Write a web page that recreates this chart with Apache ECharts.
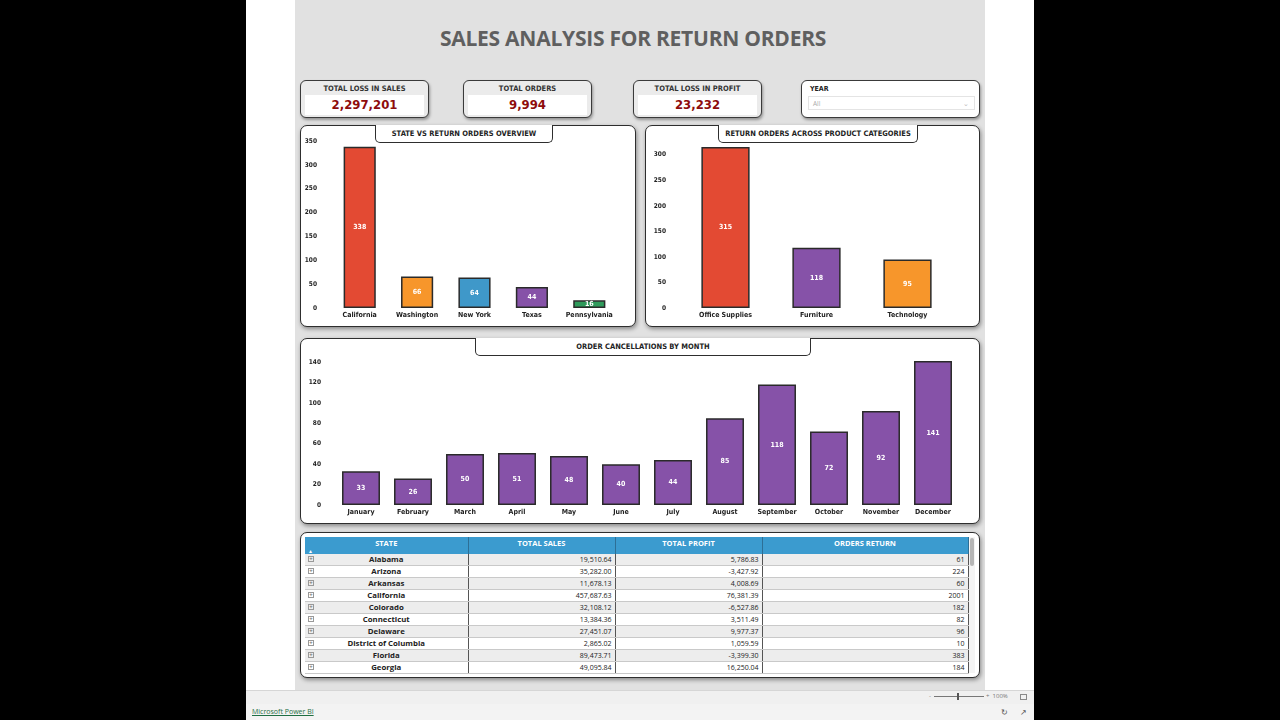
<!DOCTYPE html>
<html>
<head>
<meta charset="utf-8">
<script src="https://cdn.jsdelivr.net/npm/echarts@6/dist/echarts.min.js"></script>
<style>
	html, body { margin: 0; padding: 0; }
	body { width: 1280px; height: 720px; background: #000; position: relative; overflow: hidden; font-family: "Open Sans", sans-serif; }
	.abs { position: absolute; }
	#page { left: 246px; top: 0; width: 788px; height: 720px; background: #fff; }
	#canvas { left: 295px; top: 0; width: 690px; height: 690px; background: #e1e1e1; }
	#zoombar { left: 246px; top: 690px; width: 788px; height: 13px; background: #f0f0f0; border-top: 1px solid #d6d6d6; }
	#footer { left: 246px; top: 704px; width: 788px; height: 16px; background: #f3f3f3; }
	#title { left: 288px; top: 24px; width: 690px; text-align: center; font-weight: 700; font-size: 21px; color: #5f5f5f; letter-spacing: -0.25px; }
	.card { background: #ebebeb; border: 1.5px solid #3a3a3a; border-radius: 6px; box-shadow: 1px 2px 3px rgba(0,0,0,0.35); box-sizing: border-box; }
	.card .t { position: absolute; left: 0; right: 0; top: 3px; text-align: center; font-family: "DejaVu Sans Condensed", sans-serif; font-weight: 700; font-size: 7.5px; color: #333; }
	.card .v { position: absolute; left: 4px; right: 4px; top: 14px; height: 20px; background: #fff; text-align: center; font-family: "DejaVu Sans Condensed", sans-serif; font-weight: 700; font-size: 13px; line-height: 20px; color: #8e0c0c; }
	.panel { background: #fff; border: 1.5px solid #2e2e2e; border-radius: 7px; box-shadow: 1px 2px 4px rgba(0,0,0,0.4); box-sizing: border-box; }
	.tab { background: #fff; border: 1px solid #2e2e2e; border-top: none; border-radius: 0 0 5px 5px; box-sizing: border-box; text-align: center; font-family: "DejaVu Sans Condensed", sans-serif; font-weight: 700; font-size: 7.5px; color: #222; line-height: 17px; z-index: 5; }
	.chart { z-index: 3; }
	#tbl { left: 305px; top: 537px; width: 663px; border-collapse: collapse; table-layout: fixed; font-size: 7px; z-index: 4; }
	#tbl th { background: #3b9bcf; color: #fff; font-weight: 700; height: 17px; padding: 0; font-size: 7.5px; border-right: 1px solid #2d6f96; position: relative; vertical-align: top; line-height: 13px; }
	#tbl td { height: 11px; padding: 0 3px; border-bottom: 1px solid #c9c9c9; border-right: 1px solid #555; line-height: 11px; color: #222; white-space: nowrap; overflow: hidden; }
	#tbl tr:nth-child(odd) td { background: #ffffff; }
	#tbl tr:nth-child(even) td { background: #ededed; }
	#tbl td.st { text-align: center; font-weight: 700; font-size: 7.8px; position: relative; }
	#tbl td.num { text-align: right; }
	.plus { position: absolute; left: 3px; top: 2px; width: 6px; height: 6px; border: 1px solid #999; box-sizing: border-box; font-size: 6px; line-height: 4px; text-align: center; color: #777; }
</style>
</head>
<body>
<div id="page" class="abs"></div>
<div id="canvas" class="abs"></div>
<div id="title" class="abs">SALES ANALYSIS FOR RETURN ORDERS</div>

<div id="kpis"></div>

<div class="abs card" style="left:801px;top:80px;width:179px;height:38px;background:#fff;">
	<div class="abs" style="left:8px;top:4px;font-family:'DejaVu Sans Condensed',sans-serif;font-weight:700;font-size:7px;color:#222;">YEAR</div>
	<div class="abs" style="left:6px;top:15px;width:167px;height:14px;border:1px solid #e4e4e4;box-sizing:border-box;font-size:6.5px;color:#aaa;line-height:13px;padding-left:4px;">All<span style="position:absolute;right:5px;top:0;color:#bbb;">&#8964;</span></div>
</div>

<div class="abs panel" style="left:300px;top:125px;width:336px;height:202px;"></div>
<div class="abs tab" style="left:375px;top:125px;width:178px;height:18px;">STATE VS RETURN ORDERS OVERVIEW</div>
<div id="stateChart" class="abs chart" style="left:300px;top:125px;width:336px;height:202px;"></div>

<div class="abs panel" style="left:645px;top:125px;width:335px;height:202px;"></div>
<div class="abs tab" style="left:718px;top:125px;width:200px;height:18px;">RETURN ORDERS ACROSS PRODUCT CATEGORIES</div>
<div id="categoryChart" class="abs chart" style="left:645px;top:125px;width:335px;height:202px;"></div>

<div class="abs panel" style="left:300px;top:338px;width:680px;height:186px;"></div>
<div class="abs tab" style="left:475px;top:338px;width:336px;height:18px;">ORDER CANCELLATIONS BY MONTH</div>
<div id="monthChart" class="abs chart" style="left:300px;top:338px;width:680px;height:186px;"></div>

<div class="abs panel" style="left:300px;top:532px;width:680px;height:146px;"></div>
<table id="tbl" class="abs"></table>
<div class="abs" style="left:969px;top:537px;width:6px;height:136px;background:#f4f4f4;z-index:4;"></div>
<div class="abs" style="left:970px;top:538px;width:4px;height:28px;background:#b5b5b5;border-radius:2px;z-index:5;"></div>

<div id="zoombar" class="abs">
	<div class="abs" style="left:683px;top:1px;font-size:6px;color:#777;">-</div>
	<div class="abs" style="left:688px;top:5px;width:50px;height:1px;background:#777;"></div>
	<div class="abs" style="left:711px;top:2px;width:2px;height:7px;background:#555;"></div>
	<div class="abs" style="left:740px;top:1px;font-size:6px;color:#777;">+ &nbsp;100%</div>
	<div class="abs" style="left:774px;top:3px;width:7px;height:6px;border:1px solid #888;box-sizing:border-box;"></div>
</div>
<div id="footer" class="abs">
	<div class="abs" style="left:6px;top:3px;font-size:7px;color:#1f6e43;text-decoration:underline;">Microsoft Power BI</div>
	<div class="abs" style="left:755px;top:2px;font-size:8px;color:#555;">&#8635;</div>
	<div class="abs" style="left:774px;top:2px;font-size:8px;color:#555;">&#8599;</div>
</div>

<script>
// KPI cards
var kpiTitles = ['TOTAL LOSS IN SALES', 'TOTAL ORDERS', 'TOTAL LOSS IN PROFIT'];
var kpiValues = ['2,297,201', '9,994', '23,232'];

// state chart
var stateNames = ['California', 'Washington', 'New York', 'Texas', 'Pennsylvania'];
var stateReturns = [338, 66, 64, 44, 16];
var stateColors = ['#e34a33', '#f7962b', '#3f98c9', '#8652a8', '#2f9b5b'];

// category chart
var categoryNames = ['Office Supplies', 'Furniture', 'Technology'];
var categoryReturns = [315, 118, 95];
var categoryColors = ['#e34a33', '#8652a8', '#f7962b'];

// month chart
var monthNames = ['January', 'February', 'March', 'April', 'May', 'June', 'July', 'August', 'September', 'October', 'November', 'December'];
var monthCancels = [33, 26, 50, 51, 48, 40, 44, 85, 118, 72, 92, 141];

// table
var tableHeaders = ['STATE', 'TOTAL SALES', 'TOTAL PROFIT', 'ORDERS RETURN'];
var tableStates = ['Alabama', 'Arizona', 'Arkansas', 'California', 'Colorado', 'Connecticut', 'Delaware', 'District of Columbia', 'Florida', 'Georgia'];
var tableSales = ['19,510.64', '35,282.00', '11,678.13', '457,687.63', '32,108.12', '13,384.36', '27,451.07', '2,865.02', '89,473.71', '49,095.84'];
var tableProfit = ['5,786.83', '-3,427.92', '4,008.69', '76,381.39', '-6,527.86', '3,511.49', '9,977.37', '1,059.59', '-3,399.30', '16,250.04'];
var tableReturns = [61, 224, 60, 2001, 182, 82, 96, 10, 383, 184];

var kpiLeft = [300, 463, 633];
var kpiHtml = '';
for (var i = 0; i < kpiTitles.length; i++) {
	kpiHtml += '<div class="abs card" style="left:' + kpiLeft[i] + 'px;top:80px;width:129px;height:38px;">' +
		'<div class="t">' + kpiTitles[i] + '</div><div class="v">' + kpiValues[i] + '</div></div>';
}
document.getElementById('kpis').innerHTML = kpiHtml;

var tbl = '<colgroup><col style="width:163px"><col style="width:147px"><col style="width:147px"><col style="width:206px"></colgroup><tr>';
for (var h = 0; h < tableHeaders.length; h++) {
	tbl += '<th>' + tableHeaders[h] + (h === 0 ? '<span style="position:absolute;left:3px;top:8px;font-size:5px;">&#9650;</span>' : '') + '</th>';
}
tbl += '</tr>';
for (var r = 0; r < tableStates.length; r++) {
	tbl += '<tr><td class="st"><span class="plus">+</span>' + tableStates[r] + '</td>' +
		'<td class="num">' + tableSales[r] + '</td>' +
		'<td class="num">' + tableProfit[r] + '</td>' +
		'<td class="num">' + tableReturns[r] + '</td></tr>';
}
document.getElementById('tbl').innerHTML = tbl;

var labelFont = 'DejaVu Sans Condensed';

function barOption(names, values, colors, grid, yMax, yStep, barWidth) {
	return {
		animation: false,
		grid: grid,
		xAxis: {
			type: 'category',
			data: names,
			axisLine: { show: false },
			axisTick: { show: false },
			axisLabel: { interval: 0, hideOverlap: false, color: '#222', fontFamily: labelFont, fontWeight: 'bold', fontSize: 7, margin: 4 }
		},
		yAxis: {
			type: 'value',
			min: 0,
			max: yMax,
			interval: yStep,
			splitLine: { show: false },
			axisLine: { show: false },
			axisTick: { show: false },
			axisLabel: {
				color: '#222', fontFamily: labelFont, fontWeight: 'bold', fontSize: 6.5, margin: 14,
				showMaxLabel: yMax % yStep === 0
			}
		},
		series: [{
			type: 'bar',
			barWidth: barWidth,
			data: values.map(function (v, k) {
				return { value: v, itemStyle: { color: colors ? colors[k % colors.length] : '#8652a8' } };
			}),
			itemStyle: { borderColor: '#2a2a2a', borderWidth: 1.5 },
			label: {
				show: true,
				position: 'inside',
				color: '#fff',
				fontFamily: labelFont,
				fontWeight: 'bold',
				fontSize: 7
			}
		}]
	};
}

var stateChart = echarts.init(document.getElementById('stateChart'));
stateChart.setOption(barOption(stateNames, stateReturns, stateColors,
	{ left: 31, right: 18, top: 16, bottom: 19 }, 350, 50, '56%'));

var categoryChart = echarts.init(document.getElementById('categoryChart'));
categoryChart.setOption(barOption(categoryNames, categoryReturns, categoryColors,
	{ left: 35, right: 27, top: 17, bottom: 19 }, 325, 50, '53%'));

var monthChart = echarts.init(document.getElementById('monthChart'));
monthChart.setOption(barOption(monthNames, monthCancels, null,
	{ left: 35, right: 21, top: 22, bottom: 19 }, 142, 20, '73%'));
</script>
</body>
</html>
